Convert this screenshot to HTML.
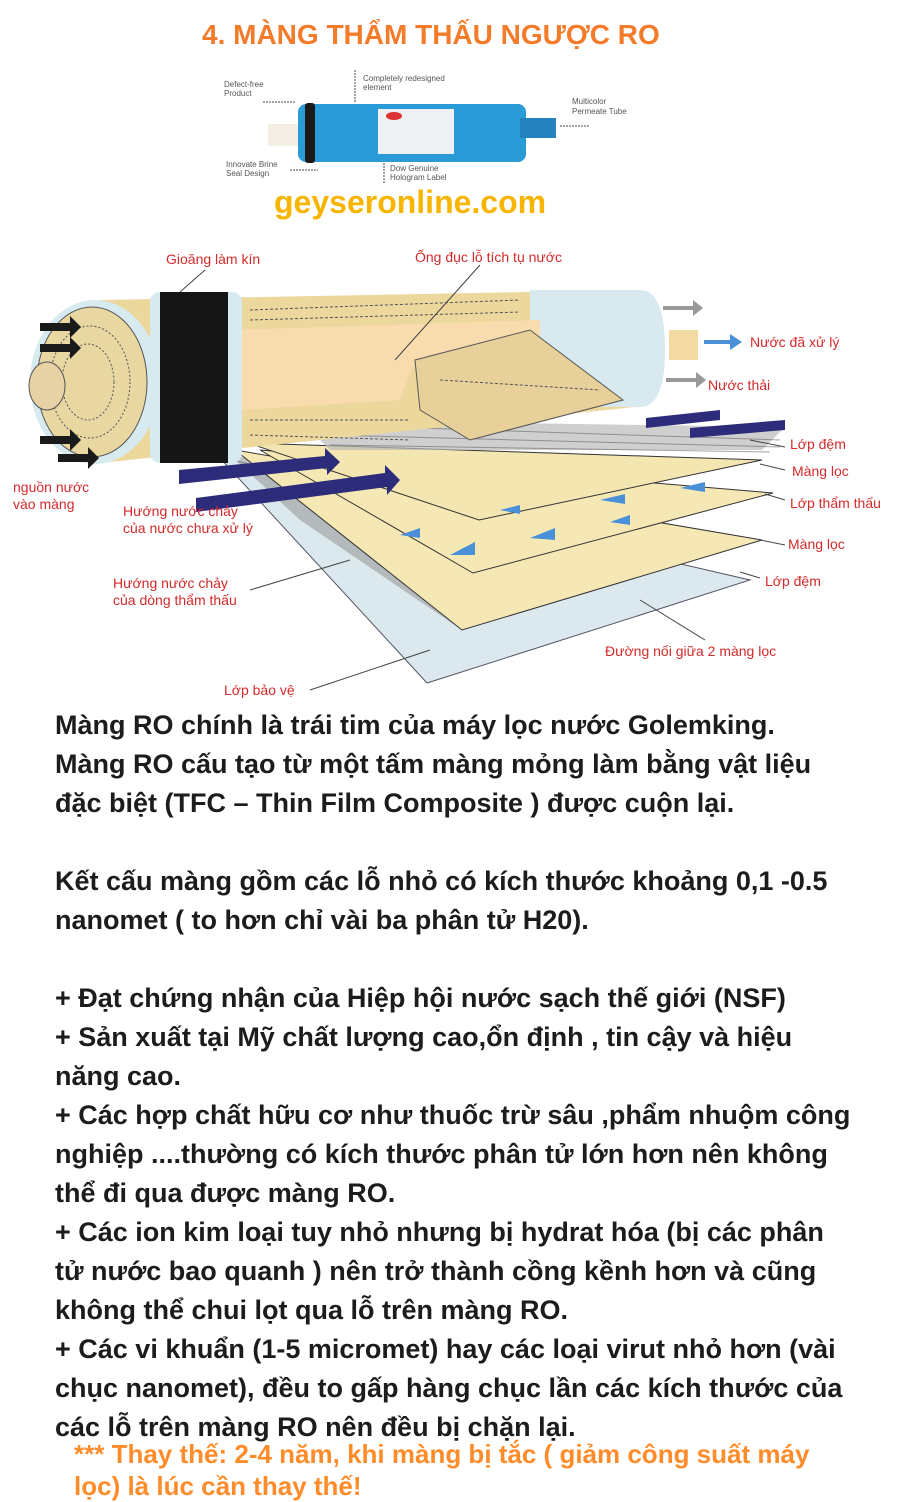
<!DOCTYPE html>
<html><head><meta charset="utf-8"><style>
body{margin:0;width:900px;height:1498px;background:#fff;overflow:hidden;position:relative;font-family:"Liberation Sans",sans-serif}
.t{position:absolute;left:55px;font-weight:bold;font-size:27px;color:#1c1c1c;white-space:nowrap}
.o{position:absolute;left:74px;font-weight:bold;font-size:26px;color:#ff8c2a;white-space:nowrap}
.lab{font-family:"Liberation Sans",sans-serif;font-size:14px;fill:#d42a2a}
.sm{font-family:"Liberation Sans",sans-serif;font-size:8px;fill:#555}
</style></head><body>
<div style="position:absolute;left:202px;top:19px;font-weight:bold;font-size:28px;color:#f47b2a;white-space:nowrap">4. MÀNG THẨM THẤU NGƯỢC RO</div>
<svg width="900" height="710" style="position:absolute;left:0;top:0">
<text class="sm" x="224" y="87">Defect-free</text><text class="sm" x="224" y="96">Product</text>
<text class="sm" x="363" y="81">Completely redesigned</text><text class="sm" x="363" y="90">element</text>
<text class="sm" x="572" y="104">Multicolor</text><text class="sm" x="572" y="114">Permeate Tube</text>
<text class="sm" x="226" y="167">Innovate Brine</text><text class="sm" x="226" y="176">Seal Design</text>
<text class="sm" x="390" y="171">Dow Genuine</text><text class="sm" x="390" y="180">Hologram Label</text>
<line x1="263" y1="102" x2="296" y2="102" stroke="#444" stroke-dasharray="2,1"/>
<line x1="355" y1="70" x2="355" y2="103" stroke="#444" stroke-dasharray="2,1"/>
<line x1="384" y1="160" x2="384" y2="183" stroke="#444" stroke-dasharray="2,1"/>
<line x1="290" y1="170" x2="318" y2="170" stroke="#444" stroke-dasharray="2,1"/>
<line x1="560" y1="126" x2="590" y2="126" stroke="#444" stroke-dasharray="2,1"/>
<rect x="268" y="124" width="36" height="22" fill="#f3efe5"/>
<rect x="298" y="104" width="228" height="58" rx="8" fill="#2b9bd8"/>
<rect x="305" y="103" width="10" height="60" rx="3" fill="#1a1a1a"/>
<rect x="520" y="118" width="36" height="20" fill="#2483bf"/>
<rect x="378" y="109" width="76" height="45" fill="#eef0f2"/>
<ellipse cx="394" cy="116" rx="8" ry="4" fill="#d33"/>
<text x="274" y="213" font-family="Liberation Sans" font-weight="bold" font-size="32" fill="#f7b500">geyseronline.com</text>
<!-- sheets -->
<polygon points="219,457 750,580 427,683" fill="#dbe9ef" stroke="#556"/>
<polygon points="230,455 762,540 462,630 300,520" fill="#9a9a9a" opacity=".6"/>
<polygon points="235,450 762,540 462,630" fill="#f5e8b4" stroke="#333"/>
<polygon points="260,450 773,493 473,573" fill="#f5e8b4" stroke="#333"/>
<polygon points="248,443 762,460 479,520" fill="#f3e6b1" stroke="#333"/>
<polygon points="300,420 785,427 762,450 330,450" fill="#bbb" opacity=".7"/>
<g stroke="#666" stroke-width="1" opacity=".6">
<line x1="330" y1="425" x2="780" y2="440"/><line x1="330" y1="435" x2="780" y2="447"/><line x1="330" y1="445" x2="770" y2="452"/></g>
<g fill="#4a90d9"><polygon points="450,555 475,542 475,555"/><polygon points="530,538 555,528 555,540"/><polygon points="610,522 630,515 630,525"/><polygon points="400,535 420,528 420,538"/><polygon points="500,510 520,505 520,514"/><polygon points="680,488 705,482 705,492"/><polygon points="600,500 625,494 625,504"/></g>
<!-- cylinder -->
<path d="M100,300 L635,290 L635,407 L100,463 Z" fill="#ecd79d"/>
<path d="M530,290 L640,290 Q665,290 665,350 Q665,407 640,407 L530,407 Z" fill="#d8e9ef"/>
<polygon points="230,330 540,320 540,380 415,360 400,400 240,410" fill="#f8dcae"/>
<polygon points="415,360 530,330 623,400 470,440 420,410" fill="#e8d09a" stroke="#555"/>
<g stroke="#555" stroke-dasharray="3,2" fill="none"><line x1="250" y1="310" x2="520" y2="300"/><line x1="250" y1="320" x2="520" y2="312"/><line x1="250" y1="420" x2="410" y2="420"/><line x1="250" y1="435" x2="410" y2="440"/><line x1="440" y1="380" x2="600" y2="390"/></g>
<ellipse cx="95" cy="382" rx="65" ry="82" fill="#d7eaef"/>
<ellipse cx="92" cy="382" rx="55" ry="75" fill="#e8d7a1" stroke="#555"/>
<ellipse cx="90" cy="382" rx="40" ry="56" fill="none" stroke="#555" stroke-dasharray="2,2"/>
<ellipse cx="88" cy="382" rx="26" ry="38" fill="none" stroke="#555" stroke-dasharray="2,2"/>
<rect x="150" y="292" width="92" height="171" rx="10" fill="#d7eaef"/>
<rect x="160" y="292" width="68" height="171" fill="#151515"/>
<ellipse cx="47" cy="386" rx="18" ry="24" fill="#e7d2a6" stroke="#555"/>
<rect x="669" y="330" width="29" height="30" fill="#f3d9a4"/>
<g fill="#1a1a1a"><polygon points="40,323 70,323 70,316 81,327 70,338 70,331 40,331"/><polygon points="40,344 70,344 70,337 81,348 70,359 70,352 40,352"/><polygon points="40,436 70,436 70,429 81,440 70,451 70,444 40,444"/><polygon points="58,454 88,454 88,447 99,458 88,469 88,462 58,462"/></g>
<g fill="#2c2c7a"><polygon points="179,470 325,456 325,448 340,462 327,475 327,468 179,484"/><polygon points="196,498 385,473 385,465 400,480 387,495 387,487 196,512"/><polygon points="646,418 720,410 720,420 646,428"/><polygon points="690,428 785,420 785,430 690,438"/></g>
<g fill="#999"><polygon points="663,306 693,306 693,300 703,308 693,316 693,310 663,310"/><polygon points="666,378 696,378 696,372 706,380 696,388 696,382 666,382"/></g>
<polygon points="704,340 730,340 730,334 742,342 730,350 730,344 704,344" fill="#4a90d9"/>
<g stroke="#444" fill="none"><line x1="205" y1="270" x2="180" y2="292"/><line x1="480" y1="265" x2="395" y2="360"/><line x1="785" y1="447" x2="750" y2="440"/><line x1="785" y1="470" x2="760" y2="464"/><line x1="785" y1="500" x2="765" y2="494"/><line x1="785" y1="545" x2="760" y2="540"/><line x1="760" y1="578" x2="740" y2="572"/><line x1="705" y1="640" x2="640" y2="600"/><line x1="310" y1="690" x2="430" y2="650"/><line x1="250" y1="590" x2="350" y2="560"/></g>
<text class="lab" x="166" y="264">Gioăng làm kín</text>
<text class="lab" x="415" y="262">Ống đục lỗ tích tụ nước</text>
<text class="lab" x="750" y="347">Nước đã xử lý</text>
<text class="lab" x="708" y="390">Nước thải</text>
<text class="lab" x="790" y="449">Lớp đệm</text>
<text class="lab" x="792" y="476">Màng lọc</text>
<text class="lab" x="790" y="508">Lớp thẩm thấu</text>
<text class="lab" x="788" y="549">Màng lọc</text>
<text class="lab" x="765" y="586">Lớp đệm</text>
<text class="lab" x="605" y="656">Đường nối giữa 2 màng lọc</text>
<text class="lab" x="224" y="695">Lớp bảo vệ</text>
<text class="lab" x="13" y="492">nguồn nước</text><text class="lab" x="13" y="509">vào màng</text>
<text class="lab" x="123" y="516">Hướng nước chảy</text><text class="lab" x="123" y="533">của nước chưa xử lý</text>
<text class="lab" x="113" y="588">Hướng nước chảy</text><text class="lab" x="113" y="605">của dòng thẩm thấu</text>
</svg>
<div class="t" style="top:710px">Màng RO chính là trái tim của máy lọc nước Golemking.</div>
<div class="t" style="top:749px">Màng RO cấu tạo từ một tấm màng mỏng làm bằng vật liệu</div>
<div class="t" style="top:788px">đặc biệt (TFC – Thin Film Composite ) được cuộn lại.</div>
<div class="t" style="top:866px">Kết cấu màng gồm các lỗ nhỏ có kích thước khoảng 0,1 -0.5</div>
<div class="t" style="top:905px">nanomet ( to hơn chỉ vài ba phân tử H20).</div>
<div class="t" style="top:983px">+ Đạt chứng nhận của Hiệp hội nước sạch thế giới (NSF)</div>
<div class="t" style="top:1022px">+ Sản xuất tại Mỹ chất lượng cao,ổn định , tin cậy và hiệu</div>
<div class="t" style="top:1061px">năng cao.</div>
<div class="t" style="top:1100px">+ Các hợp chất hữu cơ như thuốc trừ sâu ,phẩm nhuộm công</div>
<div class="t" style="top:1139px">nghiệp ....thường có kích thước phân tử lớn hơn nên không</div>
<div class="t" style="top:1178px">thể đi qua được màng RO.</div>
<div class="t" style="top:1217px">+ Các ion kim loại tuy nhỏ nhưng bị hydrat hóa (bị các phân</div>
<div class="t" style="top:1256px">tử nước bao quanh ) nên trở thành cồng kềnh hơn và cũng</div>
<div class="t" style="top:1295px">không thể chui lọt qua lỗ trên màng RO.</div>
<div class="t" style="top:1334px">+ Các vi khuẩn (1-5 micromet) hay các loại virut nhỏ hơn (vài</div>
<div class="t" style="top:1373px">chục nanomet), đều to gấp hàng chục lần các kích thước của</div>
<div class="t" style="top:1412px">các lỗ trên màng RO nên đều bị chặn lại.</div>
<div class="o" style="top:1439px">*** Thay thế: 2-4 năm, khi màng bị tắc ( giảm công suất máy</div>
<div class="o" style="top:1471px">lọc) là lúc cần thay thế!</div>
</body></html>
